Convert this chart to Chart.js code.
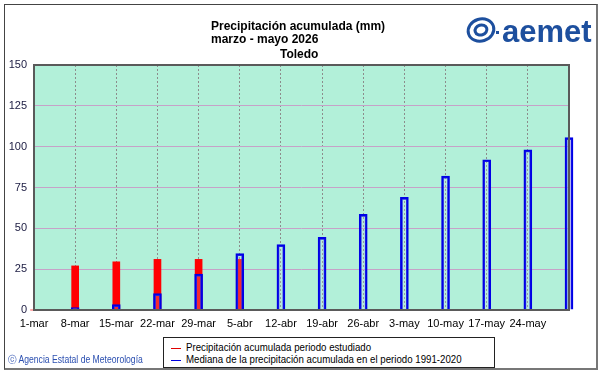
<!DOCTYPE html>
<html lang="es">
<head>
  <meta charset="UTF-8">
  <title>Precipitación acumulada - Toledo</title>
  <script src="https://cdn.jsdelivr.net/npm/chart.js"></script>
  <style>
    html, body { margin: 0; padding: 0; background: #fff; }
    #wrap { position: relative; width: 601px; height: 374px; }
    #frame { position: absolute; left: 4px; top: 4px; width: 591px; height: 363px;
             border: 1px solid #444; border-right: 2px solid #777; border-bottom: 2px solid #777; }
    canvas { position: absolute; left: 0; top: 0; }
    #legend { position: absolute; left: 163px; top: 337px; width: 330px; height: 29px;
              border: 1px solid #222; background: #fff; font: 11px Arial, "Liberation Sans", sans-serif; color: #000; }
    #legend div { position: absolute; left: 7px; white-space: nowrap; }
    #legend i { display: inline-block; width: 10px; height: 0; border-top: 1px solid; vertical-align: middle; margin-right: 5px; }
    #legend b { font-weight: normal; display: inline-block; transform: scaleX(0.88); transform-origin: left center; }
    #copy { position: absolute; left: 8px; top: 353px; font: 10px Arial, "Liberation Sans", sans-serif; color: #2b4fb0;
            white-space: nowrap; transform: scaleX(0.86); transform-origin: left center; }
  </style>
</head>
<body>
  <div id="wrap">
    <canvas id="precipChart" width="601" height="374"></canvas>
    <div id="frame"></div>
    <div id="legend">
      <div style="top:3px"><i style="border-color:#e00000"></i><b>Precipitación acumulada periodo estudiado</b></div>
      <div style="top:15px"><i style="border-color:#0000e0"></i><b>Mediana de la precipitación acumulada en el periodo 1991-2020</b></div>
    </div>
    <div id="copy">&#9426; Agencia Estatal de Meteorología</div>
  </div>

  <script>
    // semanas del periodo
    const categorias = ['1-mar', '8-mar', '15-mar', '22-mar', '29-mar', '5-abr', '12-abr',
                        '19-abr', '26-abr', '3-may', '10-may', '17-may', '24-may', '31-may'];
    // precipitación acumulada del periodo estudiado (mm)
    const acumulada = [0, 27, 29.5, 31, 31, 31, null, null, null, null, null, null, null, null];
    // mediana 1991-2020 (mm)
    const mediana = [0, 1.5, 3.3, 10, 22, 34.5, 40, 44.5, 58.5, 69, 82, 92, 98, 105.5];
    const yTicks = [0, 25, 50, 75, 100, 125, 150];

    // fondo del área del gráfico
    const fondoPlugin = {
      id: 'fondo',
      beforeDraw(chart) {
        const { ctx, chartArea: a } = chart;
        ctx.save();
        ctx.fillStyle = '#b2f0d9';
        ctx.fillRect(a.left, a.top, a.right - a.left, a.bottom - a.top);
        ctx.restore();
      },
      afterDatasetsDraw(chart) {
        const { ctx, chartArea: a } = chart;
        ctx.save();
        ctx.strokeStyle = '#5a5a5a';
        ctx.lineWidth = 2;
        ctx.strokeRect(a.left, a.top, a.right - a.left, a.bottom - a.top);
        ctx.restore();
      }
    };

    // títulos y logotipo
    const tituloPlugin = {
      id: 'titulo',
      afterDraw(chart) {
        const ctx = chart.ctx;
        ctx.save();
        ctx.fillStyle = '#000';
        ctx.font = 'bold 12px Arial, "Liberation Sans", sans-serif';
        ctx.textBaseline = 'alphabetic';
        ctx.textAlign = 'left';
        ctx.fillText('Precipitación acumulada (mm)', 211, 30);
        ctx.fillText('marzo - mayo 2026', 211, 43);
        ctx.fillText('Toledo', 280, 58);
        // logo aemet
        ctx.fillStyle = '#1d4f9e';
        ctx.font = 'bold 31px Arial, "Liberation Sans", sans-serif';
        ctx.fillText('aemet', 502, 42);
        ctx.beginPath();
        ctx.ellipse(481, 30, 13, 11, -0.3, 0, Math.PI * 2);
        ctx.lineWidth = 3;
        ctx.strokeStyle = '#1d4f9e';
        ctx.stroke();
        ctx.beginPath();
        ctx.ellipse(481, 30, 6, 5, -0.3, 0, Math.PI * 2);
        ctx.stroke();
        ctx.fillRect(496, 31, 3, 3);
        ctx.restore();
      }
    };

    const ctx = document.getElementById('precipChart').getContext('2d');
    new Chart(ctx, {
      type: 'bar',
      data: {
        labels: categorias,
        datasets: [
          {
            label: 'Mediana de la precipitación acumulada en el periodo 1991-2020',
            data: mediana,
            backgroundColor: 'rgba(200,220,230,0.2)',
            borderColor: '#0000e6',
            borderWidth: 2,
            barThickness: 8,
            grouped: false,
            order: 1,
            clip: false
          },
          {
            label: 'Precipitación acumulada periodo estudiado',
            data: acumulada,
            backgroundColor: '#ff0000',
            borderWidth: 0,
            barThickness: 7,
            grouped: false,
            order: 2,
            clip: false
          }
        ]
      },
      options: {
        responsive: false,
        animation: false,
        layout: { padding: { left: 0, right: 32, top: 65, bottom: 0 } },
        plugins: {
          legend: { display: false },
          title: { display: false },
          tooltip: { enabled: false }
        },
        scales: {
          x: {
            offset: false,
            grid: { offset: false, color: '#8c8c8c', lineWidth: 1, drawTicks: false },
            border: { display: false, dash: [2, 2] },
            ticks: {
              color: '#000',
              font: { family: 'Arial, "Liberation Sans", sans-serif', size: 11 },
              padding: 7,
              maxRotation: 0,
              autoSkip: false,
              callback: (v, i) => (i === categorias.length - 1 ? '' : categorias[i])
            },
            afterFit: s => { s.height = 64; }
          },
          y: {
            min: 0,
            max: 150,
            afterBuildTicks: s => { s.ticks = yTicks.map(v => ({ value: v })); },
            grid: { color: '#c6a2c8', lineWidth: 1, drawTicks: false },
            border: { display: false },
            ticks: {
              color: '#1a1a40',
              font: { family: 'Arial, "Liberation Sans", sans-serif', size: 11 },
              padding: 7
            },
            afterFit: s => { s.width = 34; }
          }
        }
      },
      plugins: [fondoPlugin, tituloPlugin]
    });
  </script>
</body>
</html>
